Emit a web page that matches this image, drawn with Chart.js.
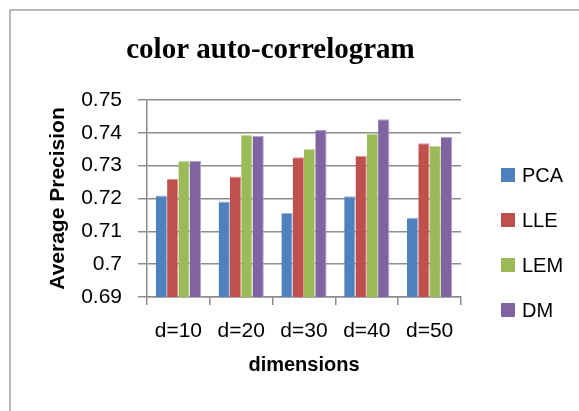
<!DOCTYPE html>
<html>
<head>
<meta charset="utf-8">
<script src="https://cdn.jsdelivr.net/npm/chart.js@4/dist/chart.umd.min.js"></script>
<style>
  html, body { margin: 0; padding: 0; background: #ffffff; }
  #wrap { width: 579px; height: 411px; position: relative; }
</style>
</head>
<body>
<div id="wrap"><canvas id="chart" width="579" height="411"></canvas></div>
<script>
// Average precision per embedding method, by number of dimensions
const categories = ['d=10', 'd=20', 'd=30', 'd=40', 'd=50'];
const pcaValues = [0.7209, 0.7191, 0.7156, 0.7207, 0.7141];
const lleValues = [0.7260, 0.7267, 0.7326, 0.7330, 0.7368];
const lemValues = [0.7315, 0.7394, 0.7351, 0.7398, 0.7361];
const dmValues  = [0.7315, 0.7390, 0.7409, 0.7441, 0.7388];
const yTickValues = [0.69, 0.70, 0.71, 0.72, 0.73, 0.74, 0.75];

const seriesNames = ['PCA', 'LLE', 'LEM', 'DM'];
const seriesValues = [pcaValues, lleValues, lemValues, dmValues];
const fillColors = ['#4f81bd', '#c0504d', '#9bbb59', '#8064a2'];
const edgeColors = ['#9bb5d9', '#dc9896', '#c6da9e', '#b4a3cc'];

const gridGrey = '#8c8c8c';
const sans = "'Liberation Sans', Arial, sans-serif";

// Thin outer frame along the top and left edges
const framePlugin = {
  id: 'frame',
  beforeDraw(chart) {
    const ctx = chart.ctx;
    ctx.save();
    ctx.strokeStyle = '#a3a3a3';
    ctx.lineWidth = 1.5;
    ctx.beginPath();
    ctx.moveTo(10, chart.height);
    ctx.lineTo(10, 10);
    ctx.lineTo(chart.width, 10);
    ctx.stroke();
    ctx.restore();
  }
};

// Legend column to the right of the plot
const sideLegend = {
  id: 'sideLegend',
  afterDraw(chart) {
    const ctx = chart.ctx;
    const area = chart.chartArea;
    const boxX = area.right + 40;
    const firstY = 175;
    const step = 45;
    ctx.save();
    ctx.font = '20px ' + sans;
    ctx.textBaseline = 'middle';
    ctx.textAlign = 'left';
    chart.data.datasets.forEach((ds, i) => {
      const cy = firstY + step * i;
      ctx.fillStyle = ds.backgroundColor;
      ctx.fillRect(boxX, cy - 7, 14, 14);
      ctx.fillStyle = '#000000';
      ctx.fillText(ds.label, boxX + 21, cy + 1);
    });
    ctx.restore();
  }
};

const datasets = seriesNames.map((name, i) => ({
  label: name,
  data: seriesValues[i],
  backgroundColor: fillColors[i],
  borderColor: edgeColors[i],
  borderWidth: { top: 1, right: 1, left: 0, bottom: 0 },
  borderSkipped: 'bottom',
  categoryPercentage: 0.72,
  barPercentage: 1.0
}));

new Chart(document.getElementById('chart'), {
  type: 'bar',
  data: { labels: categories, datasets },
  plugins: [framePlugin, sideLegend],
  options: {
    responsive: false,
    animation: false,
    devicePixelRatio: 1,
    layout: { padding: { left: 20, right: 58, top: 0, bottom: 34 } },
    plugins: {
      legend: { display: false },
      tooltip: { enabled: false },
      title: {
        display: true,
        text: 'color auto-correlogram',
        color: '#000000',
        font: { family: "'Liberation Serif', 'Times New Roman', serif", size: 29, weight: 'bold' },
        padding: { top: 32.8, bottom: 32.4 }
      }
    },
    scales: {
      x: {
        offset: true,
        grid: {
          display: true,
          drawOnChartArea: false,
          drawTicks: true,
          tickLength: 8,
          color: gridGrey,
          lineWidth: 1.5,
          offset: true
        },
        border: { display: true, color: gridGrey, width: 1.5 },
        ticks: { color: '#000000', font: { family: sans, size: 21 }, padding: 13.4, maxRotation: 0 },
        title: {
          display: true,
          text: 'dimensions',
          color: '#000000',
          font: { family: sans, size: 20, weight: 'bold' },
          padding: { top: 0, bottom: 0 }
        },
        afterFit(scale) { scale.height = 80; }
      },
      y: {
        min: 0.69,
        max: 0.75,
        afterBuildTicks(scale) { scale.ticks = yTickValues.map(v => ({ value: v })); },
        grid: { color: gridGrey, lineWidth: 1.5, tickLength: 9, drawTicks: true },
        border: { display: true, color: gridGrey, width: 1.5 },
        ticks: {
          color: '#000000',
          font: { family: sans, size: 21 },
          padding: 16,
          callback: (v) => String(+Number(v).toFixed(2))
        },
        title: {
          display: true,
          text: 'Average Precision',
          color: '#000000',
          font: { family: sans, size: 21, weight: 'bold' },
          padding: { top: 25.4, bottom: 0 }
        },
        afterFit(scale) { scale.width = 127; }
      },
      legendSpace: {
        type: 'linear',
        position: 'right',
        display: true,
        grid: { display: false },
        border: { display: false },
        ticks: { display: false },
        afterFit(scale) { scale.width = 60; }
      }
    }
  }
});
</script>
</body>
</html>
